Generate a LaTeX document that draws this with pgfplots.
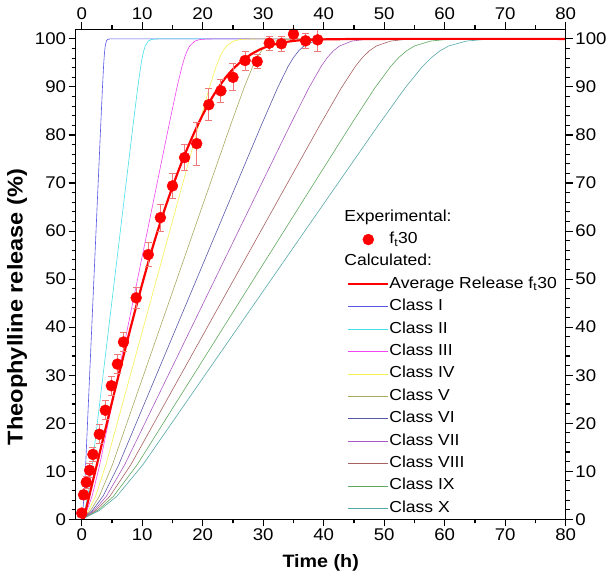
\documentclass[border=0pt]{standalone}
\usepackage{fontspec}
\setmainfont{Liberation Sans}[FakeStretch=1.1]
\usepackage{pgfplots}
\usepackage{pgfplotstable}
\pgfplotsset{compat=1.18}
\definecolor{cI}{HTML}{5555E6}
\definecolor{cII}{HTML}{44E0E8}
\definecolor{cIII}{HTML}{F044F0}
\definecolor{cIV}{HTML}{F5F050}
\definecolor{cV}{HTML}{A8A860}
\definecolor{cVI}{HTML}{5858A8}
\definecolor{cVII}{HTML}{A858C0}
\definecolor{cVIII}{HTML}{A86060}
\definecolor{cIX}{HTML}{60A860}
\definecolor{cX}{HTML}{58A8A8}
\definecolor{errc}{HTML}{F07878}
\newcommand{\fs}{\fontsize{16}{19}\selectfont}
\newcommand{\ft}{\fontsize{17}{20}\selectfont}
\newcommand{\fl}{\fontsize{18}{21}\selectfont\bfseries}
\newcommand{\fly}{\fontsize{21.5}{25}\selectfont\bfseries}

\pgfplotstableread{
t r e
0 1.3 0.5
0.3 5.1 1.0
0.75 7.7 1.2
1.3 10.2 1.5
1.85 13.5 1.5
2.9 17.7 2.0
3.9 22.7 2.0
4.9 27.8 2.0
5.9 32.3 2.0
6.9 36.9 2.0
9.0 46.1 2.2
11.0 55.1 2.5
13.0 62.8 2.8
15.0 69.4 2.6
17.0 75.3 2.7
19.0 78.2 4.5
21.0 86.3 3.3
23.0 89.2 2.4
25.0 92.0 2.8
27.0 95.5 2.0
29.0 95.3 1.5
31.0 99.1 1.5
33.0 99.0 1.5
35.0 101.0 1.0
37.0 99.6 1.5
39.0 99.8 2.5
}\exptab

\pgfplotsset{
  base/.style={
    scale only axis, width=490bp, height=490bp,
    xmin=-1, xmax=80, ymin=0, ymax=102,
    xtick={0,10,...,80}, ytick={0,10,...,100},
    minor x tick num=1, minor y tick num=4,
    tick align=outside,
    major tick length=7bp, minor tick length=4bp,
    every tick/.style={black, line width=1.1bp},
    axis line style={line width=1.4bp},
    tick label style={font=\ft},
    xticklabel style={inner sep=2bp},
    yticklabel style={inner sep=2.5bp},
    /pgf/number format/assume math mode=true,
  }
}

\begin{document}
\begin{tikzpicture}
\useasboundingbox (-75.7bp,-63bp) rectangle (535.3bp,519.3bp);
\begin{axis}[base,
  xlabel={Time (h)},
  ylabel={Theophylline release (\%)},
  every axis x label/.style={at={(axis description cs:0.5,-0.0898)}, anchor=center, font=\fl},
  every axis y label/.style={at={(axis description cs:-0.1198,0.151)}, anchor=west, rotate=90, font=\fly, inner sep=0pt},
  legend cell align=left,
  legend image code/.code={\draw[mark repeat=2,mark phase=2,#1] plot coordinates {(0bp,0bp) (20bp,0bp) (40bp,0bp)};},
  legend style={at={(axis cs:43.85,64.5)}, anchor=north west, draw=none, fill=none, inner sep=0pt,
    font=\fs, row sep=7.4bp,
    nodes={inner sep=0pt, text height=11.5bp, text depth=3.5bp},
    /tikz/every even column/.append style={column sep=5bp}},
]
% classes
\addplot[cI, line width=0.6bp, forget plot] coordinates {(0,0) (0.185,1.82) (0.37,4.78) (0.648,11.37) (1.11,24.52) (1.85,45.52) (2.59,66.52) (3.145,82.22) (3.4225,89.82) (3.6075,94.30) (3.7,96.12) (3.7925,97.54) (3.885,98.54) (4.07,99.55) (4.255,99.87) (4.5325,99.98) (4.81,100) (80,100)};
\addplot[cII, line width=0.6bp, forget plot] coordinates {(0,0) (0.5,1.82) (1.0,4.78) (1.75,11.37) (3.0,24.52) (5.0,45.52) (7.0,66.52) (8.5,82.22) (9.25,89.82) (9.75,94.30) (10.0,96.12) (10.25,97.54) (10.5,98.54) (11.0,99.55) (11.5,99.87) (12.25,99.98) (13.0,100) (80,100)};
\addplot[cIII, line width=0.6bp, forget plot] coordinates {(0,0) (0.85,1.82) (1.7,4.78) (2.975,11.37) (5.1,24.52) (8.5,45.52) (11.9,66.52) (14.45,82.22) (15.725,89.82) (16.575,94.30) (17.0,96.12) (17.425,97.54) (17.85,98.54) (18.7,99.55) (19.55,99.87) (20.825,99.98) (22.1,100) (80,100)};
\addplot[cIV, line width=0.6bp, forget plot] coordinates {(0,0) (1.14,1.82) (2.28,4.78) (3.99,11.37) (6.84,24.52) (11.4,45.52) (15.96,66.52) (19.38,82.22) (21.09,89.82) (22.23,94.30) (22.8,96.12) (23.37,97.54) (23.94,98.54) (25.08,99.55) (26.22,99.87) (27.93,99.98) (29.64,100) (80,100)};
\addplot[cV, line width=0.6bp, forget plot] coordinates {(0,0) (1.45,1.82) (2.9,4.78) (5.075,11.37) (8.7,24.52) (14.5,45.52) (20.3,66.52) (24.65,82.22) (26.825,89.82) (28.275,94.30) (29.0,96.12) (29.725,97.54) (30.45,98.54) (31.9,99.55) (33.35,99.87) (35.525,99.98) (37.7,100) (80,100)};
\addplot[cVI, line width=0.6bp, forget plot] coordinates {(0,0) (1.75,1.82) (3.5,4.78) (6.125,11.37) (10.5,24.52) (17.5,45.52) (24.5,66.52) (29.75,82.22) (32.375,89.82) (34.125,94.30) (35.0,96.12) (35.875,97.54) (36.75,98.54) (38.5,99.55) (40.25,99.87) (42.875,99.98) (45.5,100) (80,100)};
\addplot[cVII, line width=0.6bp, forget plot] coordinates {(0,0) (2.03,1.82) (4.06,4.78) (7.105,11.37) (12.18,24.52) (20.3,45.52) (28.42,66.52) (34.51,82.22) (37.555,89.82) (39.585,94.30) (40.6,96.12) (41.615,97.54) (42.63,98.54) (44.66,99.55) (46.69,99.87) (49.735,99.98) (52.78,100) (80,100)};
\addplot[cVIII, line width=0.6bp, forget plot] coordinates {(0,0) (2.32,1.82) (4.64,4.78) (8.12,11.37) (13.92,24.52) (23.2,45.52) (32.48,66.52) (39.44,82.22) (42.92,89.82) (45.24,94.30) (46.4,96.12) (47.56,97.54) (48.72,98.54) (51.04,99.55) (53.36,99.87) (56.84,99.98) (60.32,100) (80,100)};
\addplot[cIX, line width=0.6bp, forget plot] coordinates {(0,0) (2.62,1.82) (5.24,4.78) (9.17,11.37) (15.72,24.52) (26.2,45.52) (36.68,66.52) (44.54,82.22) (48.47,89.82) (51.09,94.30) (52.4,96.12) (53.71,97.54) (55.02,98.54) (57.64,99.55) (60.26,99.87) (64.19,99.98) (68.12,100) (80,100)};
\addplot[cX, line width=0.6bp, forget plot] coordinates {(0,0) (2.89,1.82) (5.78,4.78) (10.115,11.37) (17.34,24.52) (28.9,45.52) (40.46,66.52) (49.13,82.22) (53.465,89.82) (56.355,94.30) (57.8,96.12) (59.245,97.54) (60.69,98.54) (63.58,99.55) (66.47,99.87) (70.805,99.98) (75.14,100) (80,100)};
% average release
\addplot[red, line width=2.2bp, smooth, forget plot] coordinates {(0.3,0) (1,3.6) (2,8.8) (3,14) (4,19.2) (5,24.4) (6,29.5) (7,34.5) (8,39.5) (9,44.3) (10,49) (11,53.5) (12,57.8) (13,61.8) (14,65.6) (15,69.2) (16,72.6) (17,75.8) (18,78.8) (19,81.6) (20,84.2) (21,86.6) (22,88.7) (23,90.6) (24,92.3) (25,93.7) (26,94.9) (27,95.9) (28,96.8) (29,97.5) (30,98.1) (32,98.9) (34,99.4) (36,99.7) (40,99.9) (50,100) (80,100)};
% experimental
\addplot[only marks, mark=*, mark size=5.5bp, red, mark options={fill=red, draw=red}, forget plot,
  error bars/.cd, y dir=both, y explicit,
  error bar style={errc, line width=0.8bp},
  error mark options={rotate=90, mark size=3.5bp, errc, line width=0.8bp}]
  table[x=t, y=r, y error=e] {\exptab};
% legend
\addlegendimage{empty legend}\addlegendentry{\hspace*{-45bp}Experimental:}
\addlegendimage{only marks, mark=*, mark size=5.5bp, red}\addlegendentry{f\textsubscript{t}30}
\addlegendimage{empty legend}\addlegendentry{\hspace*{-45bp}Calculated:}
\addlegendimage{red, line width=2.2bp}\addlegendentry{Average Release f\textsubscript{t}30}
\addlegendimage{cI, line width=0.6bp}\addlegendentry{Class I}
\addlegendimage{cII, line width=0.6bp}\addlegendentry{Class II}
\addlegendimage{cIII, line width=0.6bp}\addlegendentry{Class III}
\addlegendimage{cIV, line width=0.6bp}\addlegendentry{Class IV}
\addlegendimage{cV, line width=0.6bp}\addlegendentry{Class V}
\addlegendimage{cVI, line width=0.6bp}\addlegendentry{Class VI}
\addlegendimage{cVII, line width=0.6bp}\addlegendentry{Class VII}
\addlegendimage{cVIII, line width=0.6bp}\addlegendentry{Class VIII}
\addlegendimage{cIX, line width=0.6bp}\addlegendentry{Class IX}
\addlegendimage{cX, line width=0.6bp}\addlegendentry{Class X}
\end{axis}
\begin{axis}[base, xticklabel pos=upper, yticklabel pos=right]
\end{axis}
\end{tikzpicture}
\end{document}
